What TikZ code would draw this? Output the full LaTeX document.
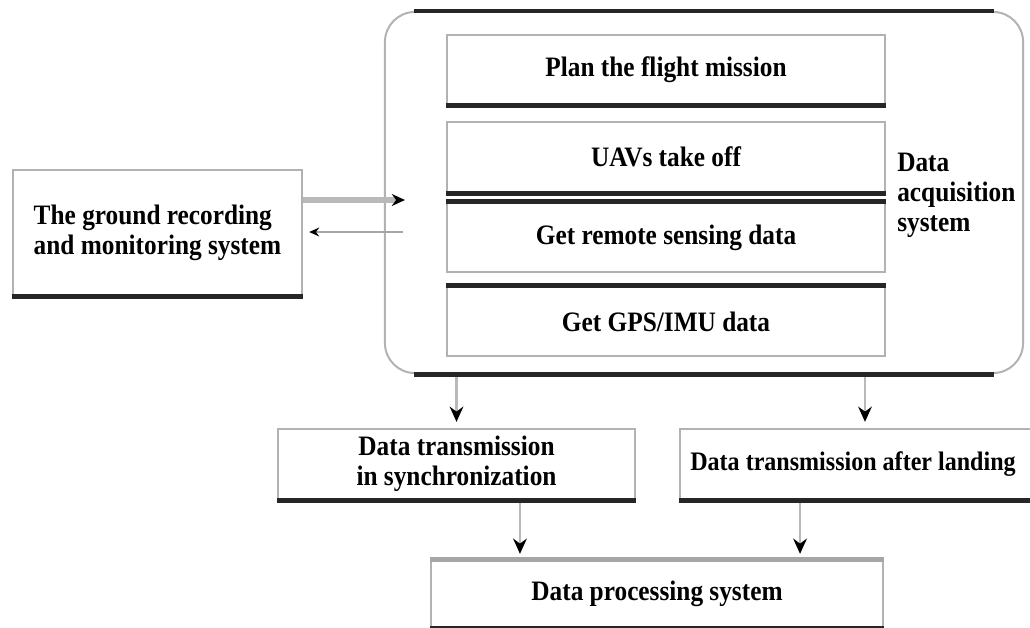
\documentclass[tikz,border=0pt]{standalone}
\usepackage{fontspec}
\setmainfont{Liberation Serif}[FakeStretch = 0.9]
\usetikzlibrary{arrows.meta}
\newcommand{\labelfont}{\bfseries\fontsize{20}{21.3}\selectfont}
\tikzset{
	stage/.style = {draw = gray!60, line width = 1.6pt, fill = white, minimum width = 10.95cm, minimum height = 1.725cm, inner sep = 0pt},
	block/.style = {draw = gray!60, line width = 1.6pt, fill = white, inner sep = 0pt, align = center},
	rim/.style = {line width = 3.5pt, black!85},
	flow/.style = {draw = gray!55, line width = 2pt, -{Stealth[length = 0.38cm, width = 0.34cm, black]}, shorten > = 0.15cm}
}

\begin{document}
\begin{tikzpicture}[x = 0.025cm, y = -0.025cm, every node/.style = {font = \labelfont}]
	\useasboundingbox (0,0) rectangle (1030,627);

	% data acquisition system
	\node[draw = gray!60, line width = 1.4pt, rounded corners = 0.75cm, minimum width = 15.95cm, minimum height = 9.025cm] (acq) at (704,192.5) {};
	\node[stage] (plan) at (666,69.5) {Plan the flight mission};
	\node[stage, minimum height = 1.75cm] (takeoff) at (666,157) {UAVs take off};
	\node[stage] (sensing) at (666,237.5) {Get remote sensing data};
	\node[stage] (gps) at (666,321.5) {Get GPS/IMU data};
	\node[anchor = west, align = left, inner sep = 0pt] (acqlabel) at (897,195.5) {Data\\acquisition\\system};

	% ground station
	\node[block, minimum width = 7.225cm, minimum height = 3.125cm, align = left] (ground) at (157.5,232.5) {The ground recording\\and monitoring system};

	% transmission and processing
	\node[block, minimum width = 8.925cm, minimum height = 1.75cm] (sync) at (456.5,464) {Data transmission\\in synchronization};
	\node[block, minimum width = 9.6cm, minimum height = 1.75cm, font = \bfseries\fontsize{19}{21.3}\selectfont] (after) at (872,464) {Data transmission after landing\hspace*{0.95cm}};
	\node[block, minimum width = 11.3cm, minimum height = 1.65cm] (proc) at (657,594) {Data processing system};

	\coordinate (in1) at (405,200);
	\coordinate (out1) at (403,232);
	\coordinate (p1) at ([xshift = -3.425cm]proc.north);
	\coordinate (p2) at ([xshift = 3.575cm]proc.north);
	\coordinate (d2) at (865,373);

	\draw[gray!55, line width = 4.3pt, -{Stealth[length = 0.33cm, width = 0.3cm, black]}] (ground.east |- in1) -- (in1);
	\draw[gray!70, line width = 1.2pt, -{Stealth[length = 0.25cm, width = 0.22cm, black]}, shorten > = 0.15cm] (out1) -- (ground.east |- out1);
	\draw[flow] (sync.north |- acq.south) -- (sync.north);
	\draw[flow] (d2) -- (d2 |- after.north);
	\draw[flow] (sync.south -| p1) -- (p1);
	\draw[flow] (after.south -| p2) -- (p2);

	% heavy edges
	\draw[rim] ([xshift = 0.75cm]acq.north west) -- ([xshift = -0.75cm]acq.north east);
	\draw[rim] ([xshift = 0.75cm]acq.south west) -- ([xshift = -0.75cm]acq.south east);
	\draw[rim] (plan.south west) -- (plan.south east);
	\draw[rim] (takeoff.south west) -- (takeoff.south east);
	\draw[rim] (sensing.north west) -- (sensing.north east);
	\draw[rim] (gps.north west) -- (gps.north east);
	\draw[rim] (ground.south west) -- (ground.south east);
	\draw[rim] (sync.south west) -- (sync.south east);
	\draw[rim] (after.south west) -- (after.south east);
	\draw[rim, gray!70] (proc.north west) -- (proc.north east);
	\draw[rim] (proc.south west) -- (proc.south east);
\end{tikzpicture}
\end{document}
